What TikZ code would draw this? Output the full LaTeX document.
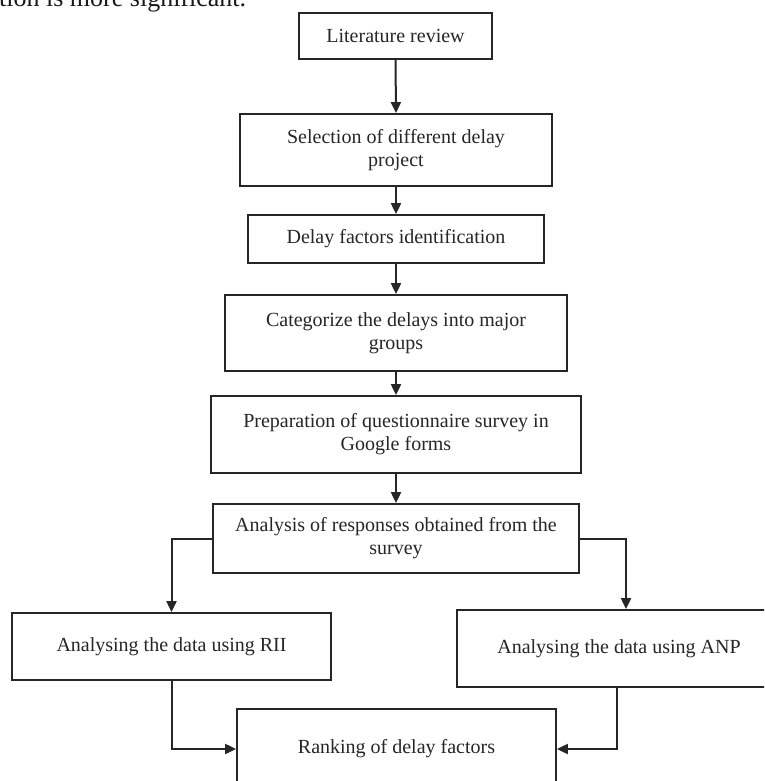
\documentclass[tikz,border=0pt]{standalone}
\usepackage{fontspec}
\setmainfont{Liberation Serif}
\usetikzlibrary{arrows.meta}
\begin{document}
\begin{tikzpicture}[x=1pt,y=-1pt,
  flowbox/.style={draw=black!85, line width=1.8pt, fill=white, align=center, inner sep=2pt,
    text=black!85, font=\fontsize{20}{23}\selectfont},
  flowarrow/.style={draw=black!85, line width=2pt, -{Triangle[length=11pt,width=10pt]}}]
\useasboundingbox (0,0) rectangle (764,781);
\clip (0,0) rectangle (764,781);
\node[anchor=base west, inner sep=0pt, text=black!90, font=\fontsize{26}{30}\selectfont] (toptext) at (-1,7) {tion is more significant.};
\node[flowbox, minimum width=193pt, minimum height=46pt] (lit) at (395.5,36) {Literature review};
\node[flowbox, minimum width=312pt, minimum height=72pt] (sel) at (396,150) {Selection of different delay\\project};
\node[flowbox, minimum width=296pt, minimum height=48pt] (del) at (396,239) {Delay factors identification};
\node[flowbox, minimum width=342pt, minimum height=76pt] (cat) at (396,333) {Categorize the delays into major\\groups};
\node[flowbox, minimum width=370pt, minimum height=77pt] (prep) at (396,434.5) {Preparation of questionnaire survey in\\Google forms};
\node[flowbox, minimum width=366pt, minimum height=69pt] (ana) at (396,538.5) {Analysis of responses obtained from the\\survey};
\node[flowbox, minimum width=319pt, minimum height=67pt] (rii) at (171.5,646.5) {Analysing the data using RII};
\node[flowbox, minimum width=324pt, minimum height=77pt] (anp) at (619,648.5) {Analysing the data using ANP};
\node[flowbox, minimum width=319pt, minimum height=80pt] (rank) at (396.5,749) {Ranking of delay factors};
\draw[flowarrow] (lit.south) -- (sel.north);
\draw[flowarrow] (sel.south) -- (del.north);
\draw[flowarrow] (del.south) -- (cat.north);
\draw[flowarrow] (cat.south) -- (prep.north);
\draw[flowarrow] (prep.south) -- (ana.north);
\draw[flowarrow] (ana.west) -| (rii.north);
\draw[flowarrow] (ana.east) -| ([xshift=7pt]anp.north);
\draw[flowarrow] (rii.south) |- (rank.west);
\draw[flowarrow] ([xshift=-2pt]anp.south) |- (rank.east);
\end{tikzpicture}
\end{document}
